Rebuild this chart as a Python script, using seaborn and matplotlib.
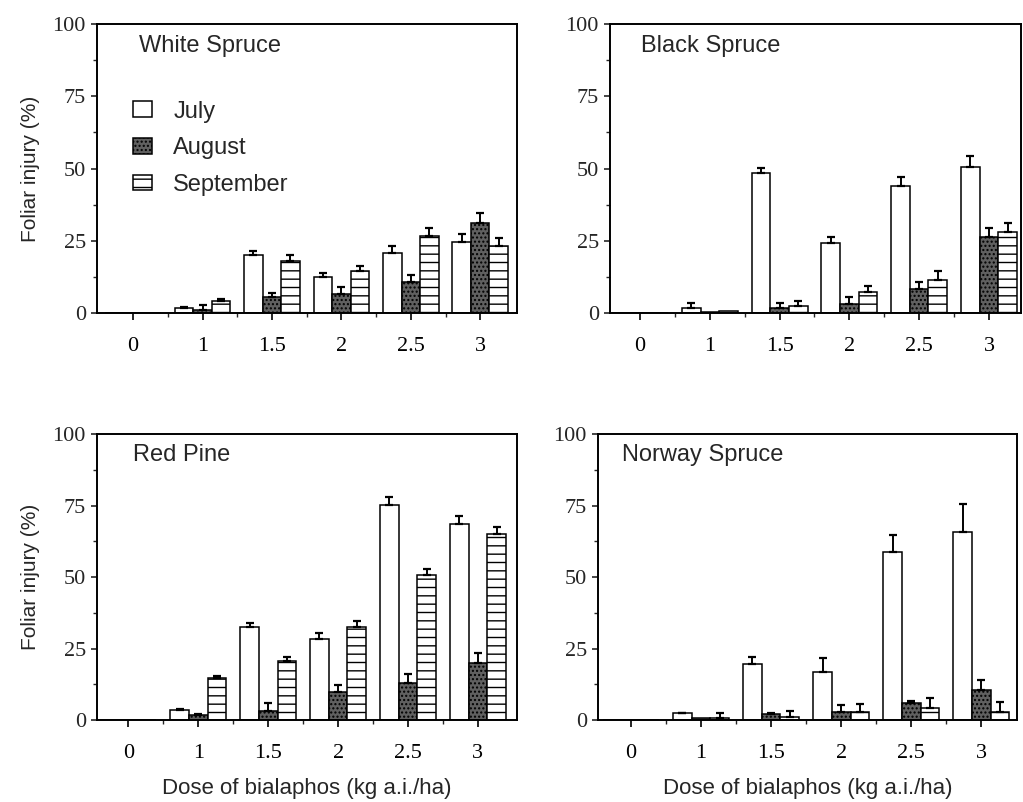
import numpy as np
import pandas as pd
import matplotlib
matplotlib.use("Agg")
import matplotlib.pyplot as plt
import seaborn as sns
from matplotlib.patches import Patch

doses = ["0", "1", "1.5", "2", "2.5", "3"]
months = ["July", "August", "September"]

# White Spruce
ws_july = [0, 1.7, 20.1, 12.5, 20.7, 24.7]
ws_aug = [0, 1.0, 5.7, 6.7, 10.8, 31.3]
ws_sep = [0, 4.3, 18.1, 14.4, 26.5, 23.3]
ws_july_err = [0, 0.4, 1.5, 1.4, 2.6, 2.6]
ws_aug_err = [0, 1.7, 1.1, 2.4, 2.2, 3.4]
ws_sep_err = [0, 0.6, 2.0, 2.0, 2.8, 2.5]

# Black Spruce
bs_july = [0, 1.6, 48.6, 24.2, 44.0, 50.6]
bs_aug = [0, 0.4, 1.7, 3.1, 8.3, 26.4]
bs_sep = [0, 0.7, 2.5, 7.4, 11.5, 28.2]
bs_july_err = [0, 1.7, 1.5, 2.2, 2.9, 3.6]
bs_aug_err = [0, 0, 1.7, 2.3, 2.5, 2.9]
bs_sep_err = [0, 0, 1.7, 2.1, 2.9, 2.8]

# Red Pine
rp_july = [0, 3.5, 32.6, 28.4, 75.2, 68.6]
rp_aug = [0, 1.8, 3.3, 9.8, 12.8, 20.0]
rp_sep = [0, 14.8, 20.7, 32.6, 50.6, 65.0]
rp_july_err = [0, 0.5, 1.4, 2.1, 2.9, 2.7]
rp_aug_err = [0, 0.3, 2.5, 2.3, 3.3, 3.4]
rp_sep_err = [0, 0.6, 1.3, 2.0, 2.1, 2.6]

# Norway Spruce
ns_july = [0, 2.3, 19.7, 16.8, 58.7, 65.8]
ns_aug = [0, 0.8, 2.0, 2.9, 6.0, 10.5]
ns_sep = [0, 0.8, 1.2, 2.7, 4.1, 2.9]
ns_july_err = [0, 0.3, 2.2, 4.9, 5.9, 9.9]
ns_aug_err = [0, 0, 0.5, 2.3, 0.5, 3.5]
ns_sep_err = [0, 1.5, 1.8, 2.9, 3.5, 3.5]

sns.set_style("ticks")
plt.rcParams["font.family"] = ["Liberation Sans", "DejaVu Sans"]

fig = plt.figure(figsize=(10.23, 8.02), dpi=100)

panels = [
    ("White Spruce", ws_july, ws_aug, ws_sep, ws_july_err, ws_aug_err, ws_sep_err,
     [0.0948, 0.6097, 0.4106, 0.3603], (-0.52, 5.53), 0.10),
    ("Black Spruce", bs_july, bs_aug, bs_sep, bs_july_err, bs_aug_err, bs_sep_err,
     [0.5963, 0.6097, 0.4018, 0.3603], (-0.43, 5.46), 0.076),
    ("Red Pine", rp_july, rp_aug, rp_sep, rp_july_err, rp_aug_err, rp_sep_err,
     [0.0948, 0.1022, 0.4106, 0.3566], (-0.45, 5.56), 0.086),
    ("Norway Spruce", ns_july, ns_aug, ns_sep, ns_july_err, ns_aug_err, ns_sep_err,
     [0.5846, 0.1022, 0.4096, 0.3566], (-0.47, 5.51), 0.057),
]

colors = {"July": "white", "August": "#606060", "September": "white"}
hatches = {"July": None, "August": "....", "September": "--"}

for i, (name, jul, aug, sep, jul_e, aug_e, sep_e, pos, xl, tx) in enumerate(panels):
    ax = fig.add_axes(pos)
    df = pd.DataFrame({
        "dose": doses * 3,
        "injury": jul + aug + sep,
        "month": ["July"] * 6 + ["August"] * 6 + ["September"] * 6,
    })
    sns.barplot(data=df, x="dose", y="injury", hue="month", order=doses,
                hue_order=months, palette=colors, edgecolor="black",
                linewidth=1.1, width=0.8, legend=False, ax=ax)
    for cont, m, errs in zip(ax.containers, months, [jul_e, aug_e, sep_e]):
        xs, ys, es = [], [], []
        for p, e in zip(cont.patches, errs):
            if hatches[m]:
                p.set_hatch(hatches[m])
            if e > 0:
                xs.append(p.get_x() + p.get_width() / 2)
                ys.append(p.get_height())
                es.append(e)
        ax.errorbar(xs, ys, yerr=[np.zeros(len(es)), es], fmt="none",
                    ecolor="black", elinewidth=1.4, capsize=2.8, capthick=1.6)

    ax.set_xlim(*xl)
    ax.set_ylim(0, 100)
    ax.set_yticks([0, 25, 50, 75, 100])
    ax.set_yticks([12.5, 37.5, 62.5, 87.5], minor=True)
    ax.set_xticks(range(6))
    ax.set_xticklabels(doses)
    ax.set_xticks(np.arange(0.5, 5, 1), minor=True)
    for lab in ax.get_xticklabels() + ax.get_yticklabels():
        lab.set_fontfamily("Liberation Serif")
        lab.set_fontsize(16)
    ax.tick_params(axis="x", which="major", length=5, width=1.2, pad=12, colors="black")
    ax.tick_params(axis="x", which="minor", length=3, width=1.0)
    ax.tick_params(axis="y", which="major", length=4, width=1.2, pad=4)
    ax.tick_params(axis="y", which="minor", length=3, width=1.0)
    for s in ax.spines.values():
        s.set_visible(True)
        s.set_linewidth(1.4)
        s.set_color("black")

    ax.text(tx, 0.925, name, transform=ax.transAxes, ha="left", va="center",
            fontsize=17)

    if i % 2 == 0:
        ax.set_ylabel("Foliar injury (%)", fontsize=15, labelpad=9)
    else:
        ax.set_ylabel("")
    if i >= 2:
        ax.set_xlabel("Dose of bialaphos (kg a.i./ha)", fontsize=16, labelpad=11)
    else:
        ax.set_xlabel("")

    if i == 0:
        handles = [Patch(facecolor=colors[m], edgecolor="black", hatch=hatches[m],
                         linewidth=1.1, label=m) for m in months]
        ax.legend(handles=handles, loc="upper left", bbox_to_anchor=(0.086, 0.735),
                  frameon=False, fontsize=17, handlelength=0.8, handleheight=0.65,
                  handletextpad=0.9, labelspacing=0.62, borderpad=0, borderaxespad=0)

fig.savefig("out.png", dpi=100)
